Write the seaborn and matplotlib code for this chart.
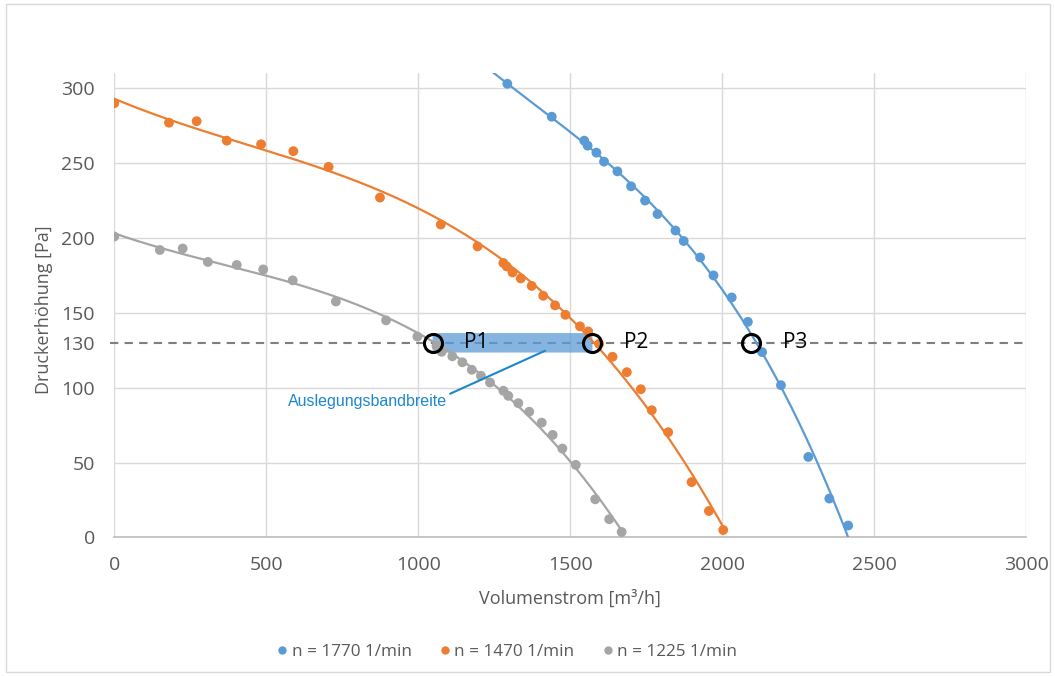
import numpy as np
import pandas as pd
import matplotlib
matplotlib.use("Agg")
import matplotlib.pyplot as plt
import seaborn as sns
from matplotlib.patches import FancyBboxPatch, Rectangle

# ---- data ----
blue_x = [1293, 1439, 1546, 1557, 1586, 1611, 1655, 1700, 1746, 1787, 1846, 1873,
          1927, 1971, 2031, 2084, 2131, 2193, 2283, 2352, 2414]
blue_y = [303, 281, 265, 261.7, 257, 251, 244.5, 234.5, 225, 216, 205, 198,
          187, 175, 160.3, 144, 123.8, 101.7, 53.8, 26, 8]

orange_x = [0, 180, 271, 370, 483, 589, 705, 874, 1074, 1195, 1280, 1291, 1310, 1337,
            1373, 1411, 1450, 1484, 1532, 1559, 1595, 1639, 1686, 1732, 1768, 1822,
            1899, 1956, 2003]
orange_y = [290, 277, 278, 265, 262.6, 258, 247.5, 227, 209, 194.4, 183.3, 181, 177, 173,
            168, 161.4, 155, 148.7, 141, 137.6, 129.3, 120.7, 110.4, 99, 85, 70.3,
            37, 17.7, 5]

gray_x = [0, 150, 225, 308, 403, 490, 587, 729, 894, 997, 1060, 1077, 1112, 1145, 1176,
          1206, 1236, 1280, 1296, 1329, 1365, 1406, 1442, 1474, 1518, 1582, 1628, 1669]
gray_y = [201, 192, 193, 184, 182, 179, 171.7, 157.6, 145, 134.2, 128, 124, 121, 117, 112,
          108, 103.5, 98, 94.6, 89.7, 84, 76.7, 68.5, 59.4, 48.5, 25.5, 12.2, 3.7]

series_names = ["n = 1770 1/min", "n = 1470 1/min", "n = 1225 1/min"]
design_pressure = 130
points_x = [1047, 1573, 2094]
points_labels = ["P1", "P2", "P3"]
band_text = "Auslegungsbandbreite"
x_ticks = [0, 500, 1000, 1500, 2000, 2500, 3000]
y_ticks = [0, 50, 100, 130, 150, 200, 250, 300]

colors = ["#5B9BD5", "#ED7D31", "#A5A5A5"]

# ---- build frames ----
rows = []
for name, xs, ys in zip(series_names, [blue_x, orange_x, gray_x], [blue_y, orange_y, gray_y]):
    for x, y in zip(xs, ys):
        rows.append((name, x, y))
df = pd.DataFrame(rows, columns=["Serie", "Q", "dp"])

# polynomial trend lines (order 3) fitted to each series
fit_rows = []
for name, xs, ys, x0 in zip(series_names, [blue_x, orange_x, gray_x], [blue_y, orange_y, gray_y],
                            [1150, 0, 0]):
    coef = np.polyfit(xs, ys, 3)
    xx = np.linspace(x0, max(xs), 300)
    yy = np.polyval(coef, xx)
    for a, b in zip(xx, yy):
        fit_rows.append((name, a, b))
fit = pd.DataFrame(fit_rows, columns=["Serie", "Q", "dp"])

sns.set_theme(style="white")
plt.rcParams["font.family"] = ["Open Sans", "DejaVu Sans"]
txt_col = "#595959"

fig = plt.figure(figsize=(10.55, 6.76), dpi=100)
fig.patches.append(Rectangle((0.006, 0.006), 0.989, 0.988, transform=fig.transFigure,
                             fill=False, edgecolor="#D9D9D9", linewidth=1.0))
ax = fig.add_axes([0.1083, 0.2049, 0.8645, 0.6867])

palette = dict(zip(series_names, colors))
sns.lineplot(data=fit, x="Q", y="dp", hue="Serie", palette=palette, linewidth=1.6,
             legend=False, ax=ax, sort=False, zorder=3)
sns.scatterplot(data=df, x="Q", y="dp", hue="Serie", palette=palette, s=50,
                edgecolor="none", ax=ax, zorder=4, legend=True)

ax.set_xlim(0, 3000)
ax.set_ylim(0, 310)
ax.set_xticks(x_ticks)
ax.set_yticks(y_ticks)
ax.grid(True, color="#D9D9D9", linewidth=1.0, zorder=0)
ax.set_axisbelow(True)
for i, t in enumerate(y_ticks):
    if t == design_pressure:
        ax.get_ygridlines()[i].set_visible(False)
for s in ["top", "right", "left"]:
    ax.spines[s].set_visible(False)
ax.spines["bottom"].set_color("#BFBFBF")
ax.tick_params(axis="both", length=0, labelsize=14, colors=txt_col)
ax.tick_params(axis="y", pad=14)
ax.tick_params(axis="x", pad=13)

ax.set_xlabel("Volumenstrom [m³/h]", fontsize=13, color=txt_col)
ax.set_ylabel("Druckerhöhung [Pa]", fontsize=13, color=txt_col)
ax.yaxis.set_label_coords(-0.067, 0.49)
ax.xaxis.set_label_coords(0.5, -0.113)

# dashed design line
ax.axhline(design_pressure, color="#7F7F7F", linestyle=(0, (4, 3)), linewidth=1.5, zorder=2,
           clip_on=False, xmin=-0.005)

# design band
band = FancyBboxPatch((points_x[0], design_pressure - 6.5), points_x[1] - points_x[0], 13,
                      boxstyle="round,pad=0,rounding_size=3", mutation_aspect=1,
                      facecolor="#5B9BD5", alpha=0.75, edgecolor="none", zorder=2.5)
ax.add_patch(band)

# operating points
ax.plot(points_x, [design_pressure] * 3, linestyle="none", marker="o", markersize=13,
        markerfacecolor="none", markeredgecolor="black", markeredgewidth=2.2, zorder=6)
for px, lab in zip(points_x, points_labels):
    ax.text(px + 105, design_pressure, lab, fontsize=15, color="black",
            ha="left", va="center", zorder=7)

# annotation
ax.annotate(band_text, xy=(1417, 124.7), xytext=(1094, 96),
            ha="right", va="top", fontsize=11.5, color="#1B87CF",
            family=["Liberation Sans Narrow", "Liberation Sans", "DejaVu Sans"],
            arrowprops=dict(arrowstyle="-", color="#1B87CF", lw=1.5,
                            shrinkA=0, shrinkB=0, relpos=(1.0, 0.9)), zorder=7)

# legend
h, l = ax.get_legend_handles_labels()
ax.legend_.remove()
leg = fig.legend(h, l, loc="center", bbox_to_anchor=(0.477, 0.036), ncol=3, frameon=False,
                 fontsize=12.3, handletextpad=-0.2, columnspacing=1.2, markerscale=0.85,
                 handlelength=1.5)
for t in leg.get_texts():
    t.set_color(txt_col)

fig.savefig("out.png", dpi=100)
